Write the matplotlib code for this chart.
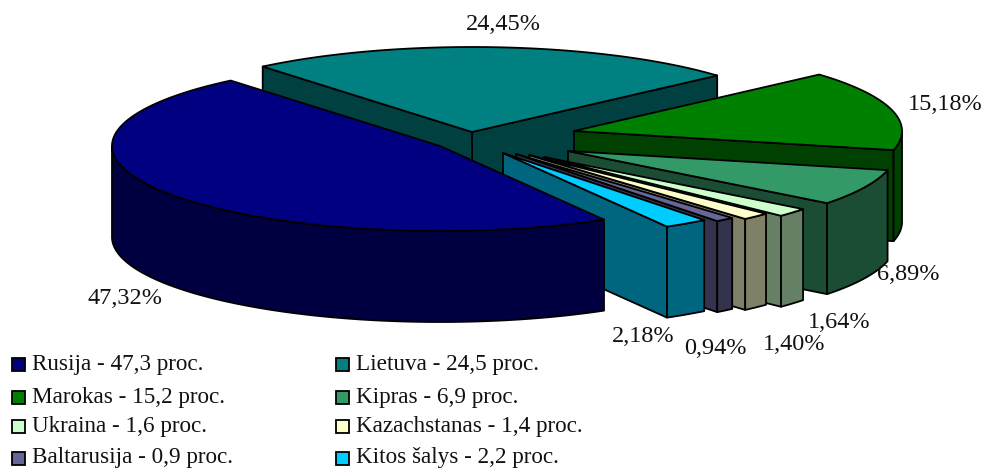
import matplotlib
matplotlib.use('Agg')
import matplotlib.pyplot as plt
from matplotlib.patches import Polygon, Rectangle
import numpy as np

plt.rcParams['font.family'] = ['Liberation Serif', 'DejaVu Serif']

# data
countries = ['Rusija', 'Lietuva', 'Marokas', 'Kipras', 'Ukraina', 'Kazachstanas', 'Baltarusija', 'Kitos šalys']
shares = [47.32, 24.45, 15.18, 6.89, 1.64, 1.40, 0.94, 2.18]
slice_labels = ['47,32%', '24,45%', '15,18%', '6,89%', '1,64%', '1,40%', '0,94%', '2,18%']
legend_values = ['47,3', '24,5', '15,2', '6,9', '1,6', '1,4', '0,9', '2,2']

# style
top_colors = ['#000080', '#008080', '#008000', '#339966', '#CCFFCC', '#FFFFCC', '#666699', '#00CCFF']
side_colors = ['#000040', '#004040', '#004000', '#1A4D33', '#668066', '#808066', '#33334D', '#006680']

# pie geometry, pixels
RX = 328
RY = 85
DEPTH = 91
START = 300
LW = 1.3
apex_x = [440, 472, 574, 568, 544, 529, 516, 503]
apex_y = [146, 132, 131, 151, 157, 155, 154, 153]
draw_order = [1, 2, 3, 4, 5, 6, 7, 0]
label_x = [125, 503, 945, 908, 839, 794, 715, 643]
label_y = [299, 25, 104, 274, 322, 344, 348, 337]
legend_col = [12, 336]
legend_row = [364, 397, 426, 458]
legend_base = [370, 403, 432, 462.5]

fig = plt.figure(figsize=(9.83, 4.68), dpi=100, facecolor='w')
ax = fig.add_axes([0, 0, 1, 1])
ax.set_xlim(0, 983)
ax.set_ylim(468, 0)
ax.axis('off')


def rim(i, t):
    return apex_x[i] + RX * np.cos(np.radians(t)), apex_y[i] - RY * np.sin(np.radians(t))


def add_poly(pts, color, z):
    ax.add_patch(Polygon(pts, closed=True, facecolor=color, edgecolor='k', linewidth=LW,
                         joinstyle='round', zorder=z))


edges = START - np.cumsum([0] + shares) * 3.6

for z, i in enumerate(draw_order):
    t_a, t_b = edges[i], edges[i + 1]
    cx, cy = apex_x[i], apex_y[i]
    ts = np.linspace(t_a, t_b, 500)
    xs, ys = rim(i, ts)

    # the clockwise side of a slice shows when its rim end points right,
    # the other side when its rim end points left
    if np.cos(np.radians(t_b)) > 0:
        x1, y1 = rim(i, t_b)
        add_poly([(cx, cy), (x1, y1), (x1, y1 + DEPTH), (cx, cy + DEPTH)], side_colors[i], z * 3 + 1)
    if np.cos(np.radians(t_a)) < 0:
        x1, y1 = rim(i, t_a)
        add_poly([(cx, cy), (x1, y1), (x1, y1 + DEPTH), (cx, cy + DEPTH)], side_colors[i], z * 3 + 1)

    # outer wall, front part only
    front = np.sin(np.radians(ts)) <= 1e-9
    if front.any():
        fx, fy = xs[front], ys[front]
        pts = list(zip(fx, fy)) + list(zip(fx[::-1], fy[::-1] + DEPTH))
        add_poly(pts, side_colors[i], z * 3 + 2)

    add_poly([(cx, cy)] + list(zip(xs, ys)), top_colors[i], z * 3 + 3)

for i, lab in enumerate(slice_labels):
    ax.text(label_x[i], label_y[i], lab, fontsize=17.5, ha='center', va='center', color='#111111', zorder=50)

for i, name in enumerate(countries):
    col = legend_col[i % 2]
    ax.add_patch(Rectangle((col, legend_row[i // 2] - 6.5), 13, 13, facecolor=top_colors[i], edgecolor='k',
                           linewidth=LW, zorder=50))
    ax.text(col + 20.5, legend_base[i // 2], name + ' - ' + legend_values[i] + ' proc.', fontsize=16.7,
            ha='left', va='baseline', color='#111111', zorder=50)

fig.savefig('out.png', dpi=100)
